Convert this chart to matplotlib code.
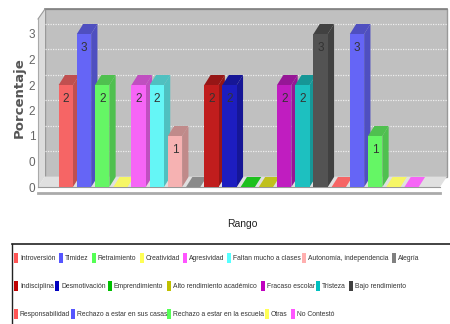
import matplotlib
matplotlib.use('Agg')
import matplotlib.pyplot as plt
from matplotlib.colors import to_rgb
from matplotlib.patches import Polygon, Rectangle

plt.rcParams['font.family'] = ['Liberation Sans', 'DejaVu Sans']

categories = ['Introversión', 'Timidez', 'Retraimiento', 'Creatividad', 'Agresividad',
              'Faltan mucho a clases', 'Autonomía, independencia', 'Alegría',
              'Indisciplina', 'Desmotivación', 'Emprendimiento', 'Alto rendimiento académico',
              'Fracaso escolar', 'Tristeza', 'Bajo rendimiento',
              'Responsabilidad', 'Rechazo a estar en sus casas', 'Rechazo a estar en la escuela',
              'Otras', 'No Contestó']
values = [2, 3, 2, 0, 2, 2, 1, 0, 2, 2, 0, 0, 2, 2, 3, 0, 3, 1, 0, 0]
colors = ['#ff5555', '#5555ff', '#55ff55', '#ffff55', '#ff55ff', '#55ffff', '#ffafaf', '#808080',
          '#c00000', '#0000c0', '#00c000', '#c0c000', '#c000c0', '#00c0c0', '#404040',
          '#ff5555', '#5555ff', '#55ff55', '#ffff55', '#ff55ff']
y_ticks = [0, 0.5, 1, 1.5, 2, 2.5, 3]
y_tick_labels = ['0', '0', '1', '2', '2', '2', '3']

legend_rows = [
    [(14, 0), (59, 1), (92, 2), (140, 3), (183, 4), (227, 5), (302, 6), (392, 7)],
    [(14, 8), (55, 9), (108, 10), (167, 11), (261, 12), (316, 13), (349, 14)],
    [(14, 15), (71, 16), (167, 17), (265, 18), (291, 19)],
]
legend_y = [258, 286, 314]

def mix(c, other, t):
    a, b = to_rgb(c), to_rgb(other)
    return tuple(a[k] * (1 - t) + b[k] * t for k in range(3))

W, H = 450, 324
fig = plt.figure(figsize=(W / 100, H / 100), dpi=100)

# overlay in pixel coords for the chart frame and the legend
bg = fig.add_axes([0, 0, 1, 1])
bg.set_xlim(0, W)
bg.set_ylim(H, 0)
bg.axis('off')

bg.add_patch(Polygon([(45, 9), (447, 9), (447, 176.5), (45, 176.5)], fc='#c0c0c0', ec='#999999', lw=1))
bg.add_patch(Polygon([(38, 19), (45, 9), (45, 176.5), (38, 187)], fc='#dcdcdc', ec='none'))
bg.add_patch(Polygon([(38, 187), (440, 187), (447, 176.5), (45, 176.5)], fc='#e0e0e0', ec='none'))
bg.plot([45, 447], [9, 9], color='#808080', lw=1.2)
bg.plot([38, 45], [19, 9], color='#999999', lw=0.8)
bg.plot([38, 38], [19, 187], color='#aaaaaa', lw=0.8)
bg.plot([38, 440], [187, 187], color='#999999', lw=0.8)
bg.plot([38, 440], [192.5, 192.5], color='#aaaaaa', lw=2)

# bars, same scale as the picture: 51 px per unit, 18.2 px per category
ax = fig.add_axes([38 / W, (H - 187) / H, (447 - 38) / W, (187 - 9) / H])
ax.patch.set_alpha(0)
px_x = 18.2
px_y = 51
ax.set_xlim(-(65.8 - 38) / px_x, (447 - 65.8) / px_x)
ax.set_ylim(0, (187 - 9) / px_y)
for s in ax.spines.values():
    s.set_visible(False)
ax.set_xticks([])
ax.set_yticks(y_ticks)
ax.set_yticklabels(y_tick_labels, fontsize=8.5, color='#666666')
ax.tick_params(axis='y', length=0, pad=2)

# gridlines on the back wall
wall_dx = 7 / px_x
wall_dy = 10.5 / px_y
for t in y_ticks[1:]:
    ax.plot([ax.get_xlim()[0] + wall_dx, ax.get_xlim()[1]], [t + wall_dy, t + wall_dy],
            color='#eeeeee', lw=0.9, ls=(0, (1, 1)), zorder=1)

bar_w = 14.3 / px_x
dx = 6.3 / px_x
dy = 10 / px_y
for i, (v, c) in enumerate(zip(values, colors)):
    l, r = i - bar_w / 2, i + bar_w / 2
    z = 3 + i
    front = mix(c, '#c0c0c0', 0.15)
    shade = mix(front, 'black', 0.22) if v > 0 else front
    ax.add_patch(Polygon([(r, 0), (r + dx, dy), (r + dx, v + dy), (r, v)], fc=shade, ec='none', zorder=z))
    ax.add_patch(Polygon([(l, v), (r, v), (r + dx, v + dy), (l + dx, v + dy)], fc=shade, ec='none', zorder=z))
    ax.bar(i, v, width=bar_w, color=front, zorder=z)
    if v > 0:
        ax.text(i, v - 14 / px_y, str(v), ha='center', va='center', fontsize=8.5, color='#333333', zorder=40)

bg.text(19, 98, 'Porcentaje', rotation=90, ha='center', va='center', fontsize=9.5,
        fontweight='bold', family='DejaVu Sans', color='#555555')
bg.text(242, 224, 'Rango', ha='center', va='center', fontsize=7.5, color='#222222')

# legend box
bg.plot([12, 450], [243.5, 243.5], color='#222222', lw=1.2)
bg.plot([12, 12], [243.5, 324], color='#222222', lw=1)
for row, y in zip(legend_rows, legend_y):
    for x, idx in row:
        bg.add_patch(Rectangle((x, y - 5), 4, 10, fc=colors[idx], ec='none'))
        bg.text(x + 6, y, categories[idx], ha='left', va='center', fontsize=4.9, color='#333333')

fig.savefig('out.png', dpi=100)
